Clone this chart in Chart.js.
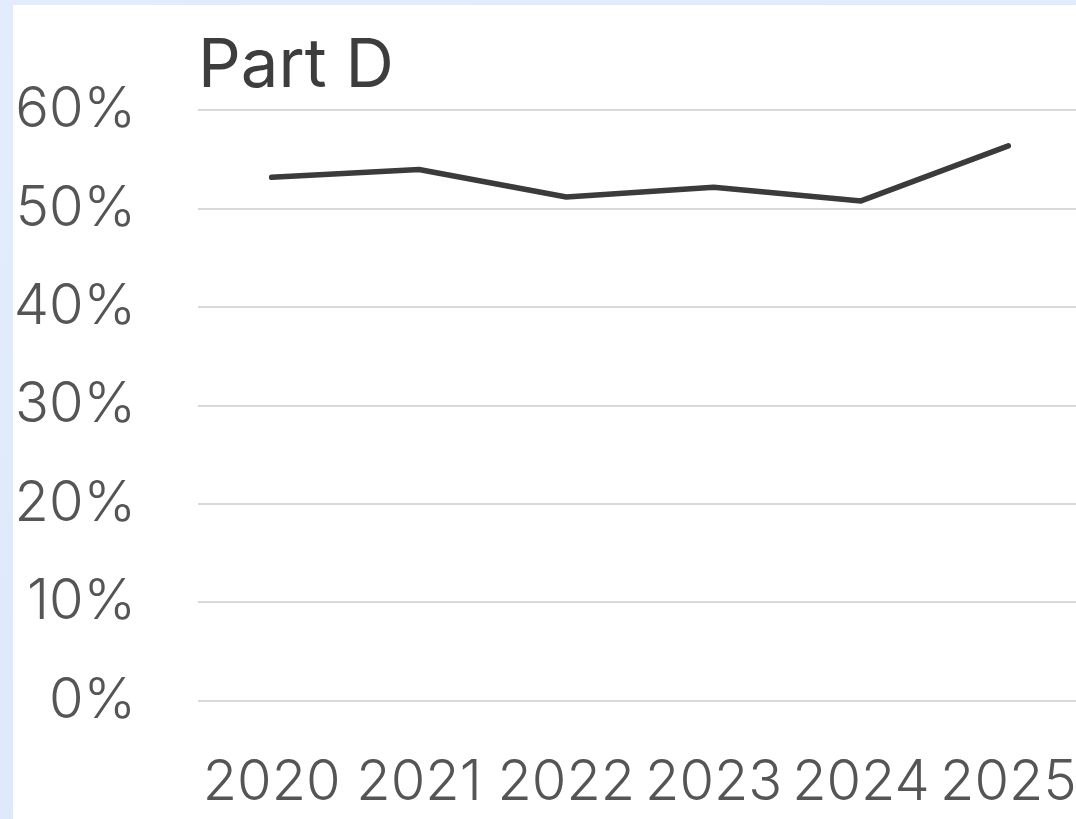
<!DOCTYPE html>
<html>
<head>
<meta charset="utf-8">
<script src="https://cdn.jsdelivr.net/npm/chart.js@4.4.0/dist/chart.umd.min.js"></script>
<style>
  html, body { margin: 0; padding: 0; width: 1076px; height: 819px; overflow: hidden; }
  body { background: linear-gradient(160deg, #e2ecfc 0%, #dde9fb 70%, #c9dcf8 100%); position: relative; }
  #panel { position: absolute; left: 13px; top: 5px; width: 1080px; height: 830px; background: #fff; }
  canvas { position: absolute; left: 0; top: 0; }
</style>
</head>
<body>
<div id="panel"><canvas id="lineChart" width="1069" height="814"></canvas></div>
<script>
  // data
  const years = ["2020", "2021", "2022", "2023", "2024", "2025"];
  const partD = [53.2, 54.0, 51.2, 52.2, 50.8, 56.4];
  const yTicks = [0, 10, 20, 30, 40, 50, 60];

  const fontFamily = "Inter, 'Noto Sans', sans-serif";

  var ctx = document.getElementById("lineChart").getContext('2d');
  var myLineChart = new Chart(ctx, {
    type: 'line',
    data: {
      labels: years,
      datasets: [{
        label: "Part D",
        data: partD,
        borderColor: "#3b3b3b",
        borderWidth: 5.5,
        borderCapStyle: 'round',
        borderJoinStyle: 'round',
        pointRadius: 0,
        tension: 0,
        fill: false
      }]
    },
    options: {
      responsive: false,
      animation: false,
      devicePixelRatio: 1,
      layout: { padding: { top: 22, left: 0, right: 0, bottom: 2 } },
      plugins: {
        legend: { display: false },
        tooltip: { enabled: false },
        title: {
          display: true,
          text: "Part D",
          align: 'start',
          fullSize: false,
          color: "#3d3d3d",
          font: { family: fontFamily, size: 67, weight: 400 },
          padding: { top: 0, bottom: 3 }
        }
      },
      scales: {
        x: {
          offset: true,
          // grid lines hidden, tick length only used to push the labels down
          grid: { display: false, drawTicks: true, tickLength: 49 },
          border: { display: false },
          ticks: {
            color: "#555",
            padding: 0,
            autoSkip: false,
            maxRotation: 0,
            font: { family: fontFamily, size: 56, weight: 300 }
          }
        },
        y: {
          min: yTicks[0],
          max: yTicks[yTicks.length - 1],
          afterBuildTicks: function (scale) {
            scale.ticks = yTicks.map(function (v) { return { value: v }; });
          },
          afterFit: function (scale) { scale.width = 185; },
          grid: { color: "#d9d9d9", lineWidth: 2, drawTicks: false },
          border: { display: false },
          ticks: {
            color: "#555",
            padding: 62,
            font: { family: fontFamily, size: 56, weight: 300 },
            callback: function (v) { return v + "%"; }
          }
        }
      }
    }
  });
</script>
</body>
</html>
